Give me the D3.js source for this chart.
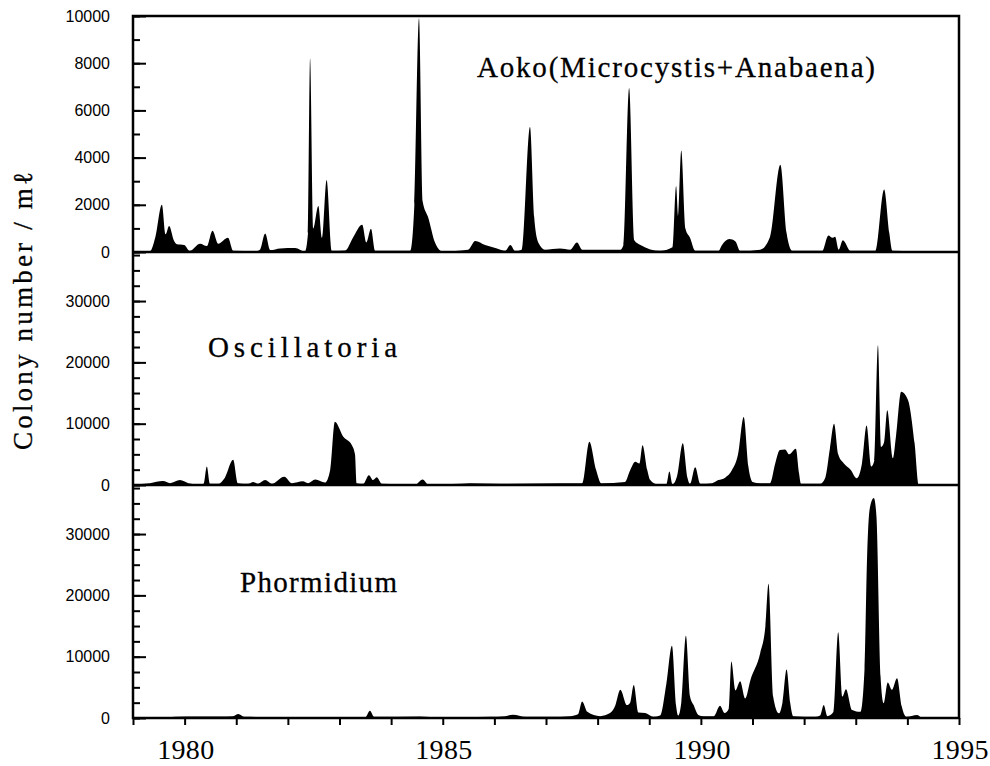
<!DOCTYPE html>
<html>
<head>
<meta charset="utf-8">
<script src="https://cdn.jsdelivr.net/npm/d3@7"></script>
<style>
  body { margin: 0; background: #fff; }
  .axis text { font-family: 'Liberation Sans', Arial, sans-serif; font-size: 16px; fill: #000; }
  .axis line { stroke: #000; stroke-width: 2; }
  .label { font-family: 'Liberation Serif', 'Times New Roman', serif; fill: #000; stroke: #000; stroke-width: 0.3; }
</style>
</head>
<body>
<div id="chart"></div>
<script>
// Data: [year, colonies per ml]
const aoko = [
  [1979.00, 0], [1979.33, 30], [1979.43, 600], [1979.56, 2000], [1979.63, 750], [1979.70, 1100],
  [1979.79, 500], [1979.85, 330], [1979.99, 300], [1980.10, 50], [1980.30, 350], [1980.43, 250],
  [1980.54, 900], [1980.65, 350], [1980.84, 600], [1980.94, 50], [1981.36, 30], [1981.46, 100],
  [1981.56, 780], [1981.66, 80], [1981.85, 150], [1982.14, 170], [1982.33, 20], [1982.39, 800],
  [1982.43, 8200], [1982.49, 1000], [1982.59, 1950], [1982.66, 600], [1982.75, 3050], [1982.85, 50],
  [1983.11, 60], [1983.26, 600], [1983.44, 1150], [1983.52, 400], [1983.61, 980], [1983.69, 50],
  [1984.37, 50], [1984.45, 2000], [1984.54, 9900], [1984.61, 2150], [1984.72, 1450], [1984.85, 400],
  [1984.99, 30], [1985.49, 100], [1985.63, 470], [1985.82, 300], [1986.05, 150], [1986.21, 50],
  [1986.31, 300], [1986.40, 50], [1986.53, 100], [1986.69, 5300], [1986.77, 1500], [1986.85, 400],
  [1986.98, 100], [1987.27, 150], [1987.47, 100], [1987.60, 400], [1987.70, 100], [1988.44, 100],
  [1988.50, 300], [1988.61, 6950], [1988.71, 500], [1988.83, 300], [1989.21, 50], [1989.45, 200],
  [1989.52, 2800], [1989.56, 1500], [1989.62, 4300], [1989.70, 1000], [1989.79, 600], [1989.89, 50],
  [1990.34, 50], [1990.41, 300], [1990.55, 550], [1990.67, 450], [1990.76, 50], [1991.15, 100],
  [1991.34, 650], [1991.54, 3700], [1991.66, 800], [1991.77, 50], [1992.35, 50], [1992.47, 700],
  [1992.55, 600], [1992.60, 650], [1992.67, 100], [1992.75, 500], [1992.90, 50], [1993.38, 50],
  [1993.55, 2650], [1993.65, 800], [1993.71, 50], [1994.97, 0]
]

const oscillatoria = [
  [1979.00, 100], [1979.33, 300], [1979.58, 650], [1979.72, 300], [1979.91, 800], [1980.07, 300],
  [1980.30, 100], [1980.37, 200], [1980.43, 3000], [1980.49, 200], [1980.65, 200], [1980.78, 1200],
  [1980.94, 4100], [1981.03, 300], [1981.23, 200], [1981.33, 500], [1981.42, 200], [1981.56, 800],
  [1981.69, 200], [1981.93, 1350], [1982.08, 300], [1982.29, 600], [1982.39, 300], [1982.53, 900],
  [1982.72, 400], [1982.82, 2500], [1982.91, 10300], [1983.07, 7900], [1983.24, 6500], [1983.30, 5000],
  [1983.33, 300], [1983.46, 200], [1983.57, 1600], [1983.65, 800], [1983.72, 1250], [1983.82, 200],
  [1984.47, 100], [1984.61, 900], [1984.72, 100], [1985.34, 200], [1985.53, 300], [1986.11, 200],
  [1987.27, 300], [1987.57, 300], [1987.70, 300], [1987.84, 7050], [1987.97, 2500], [1988.07, 300],
  [1988.53, 500], [1988.63, 2400], [1988.73, 3800], [1988.81, 3500], [1988.87, 6500], [1988.96, 2500],
  [1989.02, 800], [1989.16, 100], [1989.33, 100], [1989.39, 2200], [1989.45, 100], [1989.54, 1500],
  [1989.65, 6800], [1989.74, 1200], [1989.79, 200], [1989.89, 2900], [1989.99, 200], [1990.22, 300],
  [1990.34, 800], [1990.47, 1200], [1990.60, 2400], [1990.72, 5000], [1990.83, 11100], [1990.92, 3000],
  [1991.00, 500], [1991.15, 300], [1991.34, 300], [1991.44, 3500], [1991.53, 5700], [1991.63, 5800],
  [1991.71, 5000], [1991.84, 5900], [1991.90, 2000], [1991.94, 200], [1992.31, 200], [1992.41, 1200],
  [1992.50, 6000], [1992.58, 10000], [1992.66, 5000], [1992.77, 3500], [1992.90, 2500], [1993.02, 1100],
  [1993.12, 3500], [1993.21, 9700], [1993.30, 3000], [1993.36, 4000], [1993.43, 22800], [1993.49, 6200],
  [1993.55, 7000], [1993.61, 12200], [1993.72, 4350], [1993.78, 8000], [1993.88, 15200], [1994.01, 13900],
  [1994.14, 6800], [1994.22, 0], [1994.97, 0]
]

const phormidium = [
  [1979.00, 0], [1979.62, 100], [1980.01, 250], [1980.69, 250], [1980.94, 300], [1981.04, 650],
  [1981.15, 200], [1982.24, 100], [1983.01, 100], [1983.50, 150], [1983.59, 1200], [1983.67, 200],
  [1984.56, 250], [1984.95, 100], [1985.92, 200], [1986.21, 300], [1986.36, 550], [1986.60, 200],
  [1987.08, 200], [1987.47, 300], [1987.62, 600], [1987.70, 2700], [1987.80, 1000], [1988.05, 300],
  [1988.24, 800], [1988.34, 2000], [1988.44, 4600], [1988.57, 2100], [1988.63, 2500], [1988.70, 5400],
  [1988.79, 900], [1988.92, 800], [1989.08, 200], [1989.21, 400], [1989.33, 5500], [1989.44, 11800],
  [1989.52, 2000], [1989.56, 400], [1989.62, 2500], [1989.71, 13400], [1989.79, 3500], [1989.86, 2100],
  [1989.95, 500], [1990.05, 300], [1990.25, 300], [1990.37, 2000], [1990.46, 800], [1990.54, 1500],
  [1990.59, 9200], [1990.67, 4500], [1990.76, 6000], [1990.86, 3200], [1990.96, 6200], [1991.15, 10600],
  [1991.25, 15000], [1991.31, 21900], [1991.40, 3500], [1991.51, 760], [1991.58, 2500], [1991.66, 7900],
  [1991.73, 2500], [1991.79, 300], [1992.22, 200], [1992.31, 400], [1992.38, 2100], [1992.45, 300],
  [1992.57, 1000], [1992.66, 14000], [1992.74, 3500], [1992.81, 4700], [1992.93, 1300], [1993.09, 1000],
  [1993.17, 8000], [1993.22, 26400], [1993.27, 34100], [1993.35, 35900], [1993.40, 33000], [1993.48, 6800],
  [1993.54, 2400], [1993.62, 5800], [1993.70, 4600], [1993.80, 6500], [1993.89, 1900], [1993.98, 200],
  [1994.19, 500], [1994.29, 0], [1994.97, 0]
]

const yearTicks = d3.range(1979, 1996)
const yearLabels = [1980, 1985, 1990, 1995]
const aokoTicks = [0, 2000, 4000, 6000, 8000, 10000]
const bigTicks = [0, 10000, 20000, 30000]

const panelLabels = ['Aoko(Microcystis+Anabaena)', 'Oscillatoria', 'Phormidium']
const yTitle = 'Colony number / mℓ'

function draw() {
    // Dimension
    const dimension = {
        width: 990,
        height: 766,
        left: 133,
        right: 959,
        top: 16,
        sep1: 252,
        sep2: 485,
        bottom: 718
    }

    const svg = d3.select('#chart')
        .append('svg')
        .attr('width', dimension.width)
        .attr('height', dimension.height)

    // Scales
    const xScale = d3.scaleLinear()
        .domain([1979, 1995])
        .range([dimension.left, dimension.right])

    const panels = [
        { data: aoko, max: 10000, top: dimension.top, bottom: dimension.sep1, major: aokoTicks, minor: d3.range(0, 10001, 1000) },
        { data: oscillatoria, max: 38000, top: dimension.sep1, bottom: dimension.sep2, major: bigTicks, minor: d3.range(0, 37501, 2500) },
        { data: phormidium, max: 38000, top: dimension.sep2, bottom: dimension.bottom, major: bigTicks, minor: d3.range(0, 37501, 2500) }
    ]

    panels.forEach((p) => {
        const yScale = d3.scaleLinear()
            .domain([0, p.max])
            .range([p.bottom, p.top])

        const area = d3.area()
            .x(d => xScale(d[0]))
            .y0(yScale(0))
            .y1(d => yScale(d[1]))
            .curve(d3.curveMonotoneX)

        svg.append('path')
            .datum(p.data)
            .attr('d', area)
            .attr('fill', '#000')

        // minor ticks
        const minorAxis = d3.axisLeft(yScale)
            .tickValues(p.minor)
            .tickSizeInner(-7)
            .tickSizeOuter(0)
            .tickFormat('')
        svg.append('g')
            .attr('transform', `translate(${dimension.left},0)`)
            .classed('axis', true)
            .call(minorAxis)
            .call(g => g.select('.domain').remove())

        // major ticks with labels
        const majorAxis = d3.axisLeft(yScale)
            .tickValues(p.major)
            .tickSizeInner(-13)
            .tickSizeOuter(0)
            .tickPadding(23)
            .tickFormat(d3.format('d'))
        svg.append('g')
            .attr('transform', `translate(${dimension.left},0)`)
            .classed('axis', true)
            .call(majorAxis)
            .call(g => g.select('.domain').remove())
    })

    // X axis
    const xAxis = d3.axisBottom(xScale)
        .tickValues(yearTicks)
        .tickSizeInner(7)
        .tickSizeOuter(0)
        .tickFormat('')
    svg.append('g')
        .attr('transform', `translate(0,${dimension.bottom})`)
        .classed('axis', true)
        .call(xAxis)
        .call(g => g.select('.domain').remove())

    svg.selectAll('.year')
        .data(yearLabels)
        .join('text')
        .attr('x', d => xScale(d) + 1)
        .attr('y', 759)
        .attr('text-anchor', 'middle')
        .attr('textLength', 57)
        .attr('lengthAdjust', 'spacing')
        .style('font-family', "'Liberation Serif', 'Times New Roman', serif")
        .style('font-size', '28px')
        .text(d => d)

    // Frame
    const frame = svg.append('g')
        .attr('stroke', '#000')
        .attr('stroke-width', 2.5)
        .attr('fill', 'none')
    frame.append('rect')
        .attr('x', dimension.left)
        .attr('y', dimension.top)
        .attr('width', dimension.right - dimension.left)
        .attr('height', dimension.bottom - dimension.top)
    ;[dimension.sep1, dimension.sep2].forEach(y => {
        frame.append('line')
            .attr('x1', dimension.left)
            .attr('x2', dimension.right)
            .attr('y1', y)
            .attr('y2', y)
    })

    // Panel labels
    const labelPos = [
        { x: 477, y: 77, len: 398 },
        { x: 208, y: 357, len: 189 },
        { x: 240, y: 592, len: 157 }
    ]
    svg.selectAll('.label')
        .data(panelLabels)
        .join('text')
        .classed('label', true)
        .attr('x', (d, i) => labelPos[i].x)
        .attr('y', (d, i) => labelPos[i].y)
        .attr('textLength', (d, i) => labelPos[i].len)
        .attr('lengthAdjust', 'spacing')
        .style('font-size', '29px')
        .text(d => d)

    // Y title
    svg.append('text')
        .classed('label', true)
        .attr('transform', 'translate(32,311) rotate(-90)')
        .attr('text-anchor', 'middle')
        .attr('textLength', 278)
        .attr('lengthAdjust', 'spacing')
        .style('font-size', '27px')
        .text(yTitle)
}

draw()
</script>
</body>
</html>
